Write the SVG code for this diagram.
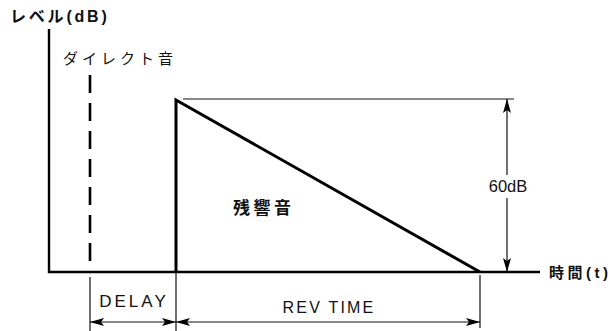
<svg xmlns="http://www.w3.org/2000/svg" width="612" height="331" viewBox="0 0 612 331">
<style>
.t{font-family:"Liberation Sans","Noto Sans CJK JP",sans-serif;fill:#111}
.thin{stroke:#111;stroke-width:1.2;fill:none}
.thick{stroke:#000;stroke-width:2.4;fill:none}
</style>
<defs>
<marker id="ah" viewBox="0 0 14 8" refX="14" refY="4" markerWidth="14" markerHeight="8" markerUnits="userSpaceOnUse" orient="auto-start-reverse">
<path d="M0,0 L14,4 L0,8 L3,4 Z" fill="#000"/>
</marker>
</defs>
<rect width="612" height="331" fill="#fff"/>
<g id="axes">
<path class="thick" d="M49,29 V272 H540"/>
<text class="t" x="10" y="22" font-size="16" font-weight="bold" letter-spacing="2.8">レベル(dB)</text>
<text class="t" x="549" y="278" font-size="15" font-weight="bold" letter-spacing="3.5">時間(t)</text>
</g>
<g id="direct">
<line x1="90" y1="75" x2="90" y2="272" stroke="#000" stroke-width="2.6" stroke-dasharray="18,10"/>
<text class="t" x="63" y="64" font-size="15" letter-spacing="4">ダイレクト音</text>
</g>
<g id="reverb">
<path d="M176,272 V100 L480,272" stroke="#000" stroke-width="3" fill="none" stroke-linejoin="miter"/>
<text class="t" x="233" y="214" font-size="17" font-weight="bold" letter-spacing="3.5">残響音</text>
</g>
<g id="connectors">
<line class="thin" x1="183" y1="99" x2="514" y2="99"/>
<line class="thin" x1="507" y1="99" x2="507" y2="175" marker-start="url(#ah)"/>
<line class="thin" x1="507" y1="198" x2="507" y2="272" marker-end="url(#ah)"/>
<line class="thin" x1="90" y1="277" x2="90" y2="331"/>
<line class="thin" x1="176" y1="272" x2="176" y2="331"/>
<line class="thin" x1="480" y1="275" x2="480" y2="328"/>
<line class="thin" x1="90" y1="322" x2="176" y2="322" marker-start="url(#ah)" marker-end="url(#ah)"/>
<line class="thin" x1="176" y1="322" x2="480" y2="322" marker-start="url(#ah)" marker-end="url(#ah)"/>
</g>
<g id="labels">
<text class="t" x="508" y="192" font-size="16.5" text-anchor="middle">60dB</text>
<text class="t" x="134" y="307" font-size="17" text-anchor="middle" letter-spacing="3">DELAY</text>
<text class="t" x="329" y="313" font-size="16" text-anchor="middle" letter-spacing="2.2">REV TIME</text>
</g>
</svg>
